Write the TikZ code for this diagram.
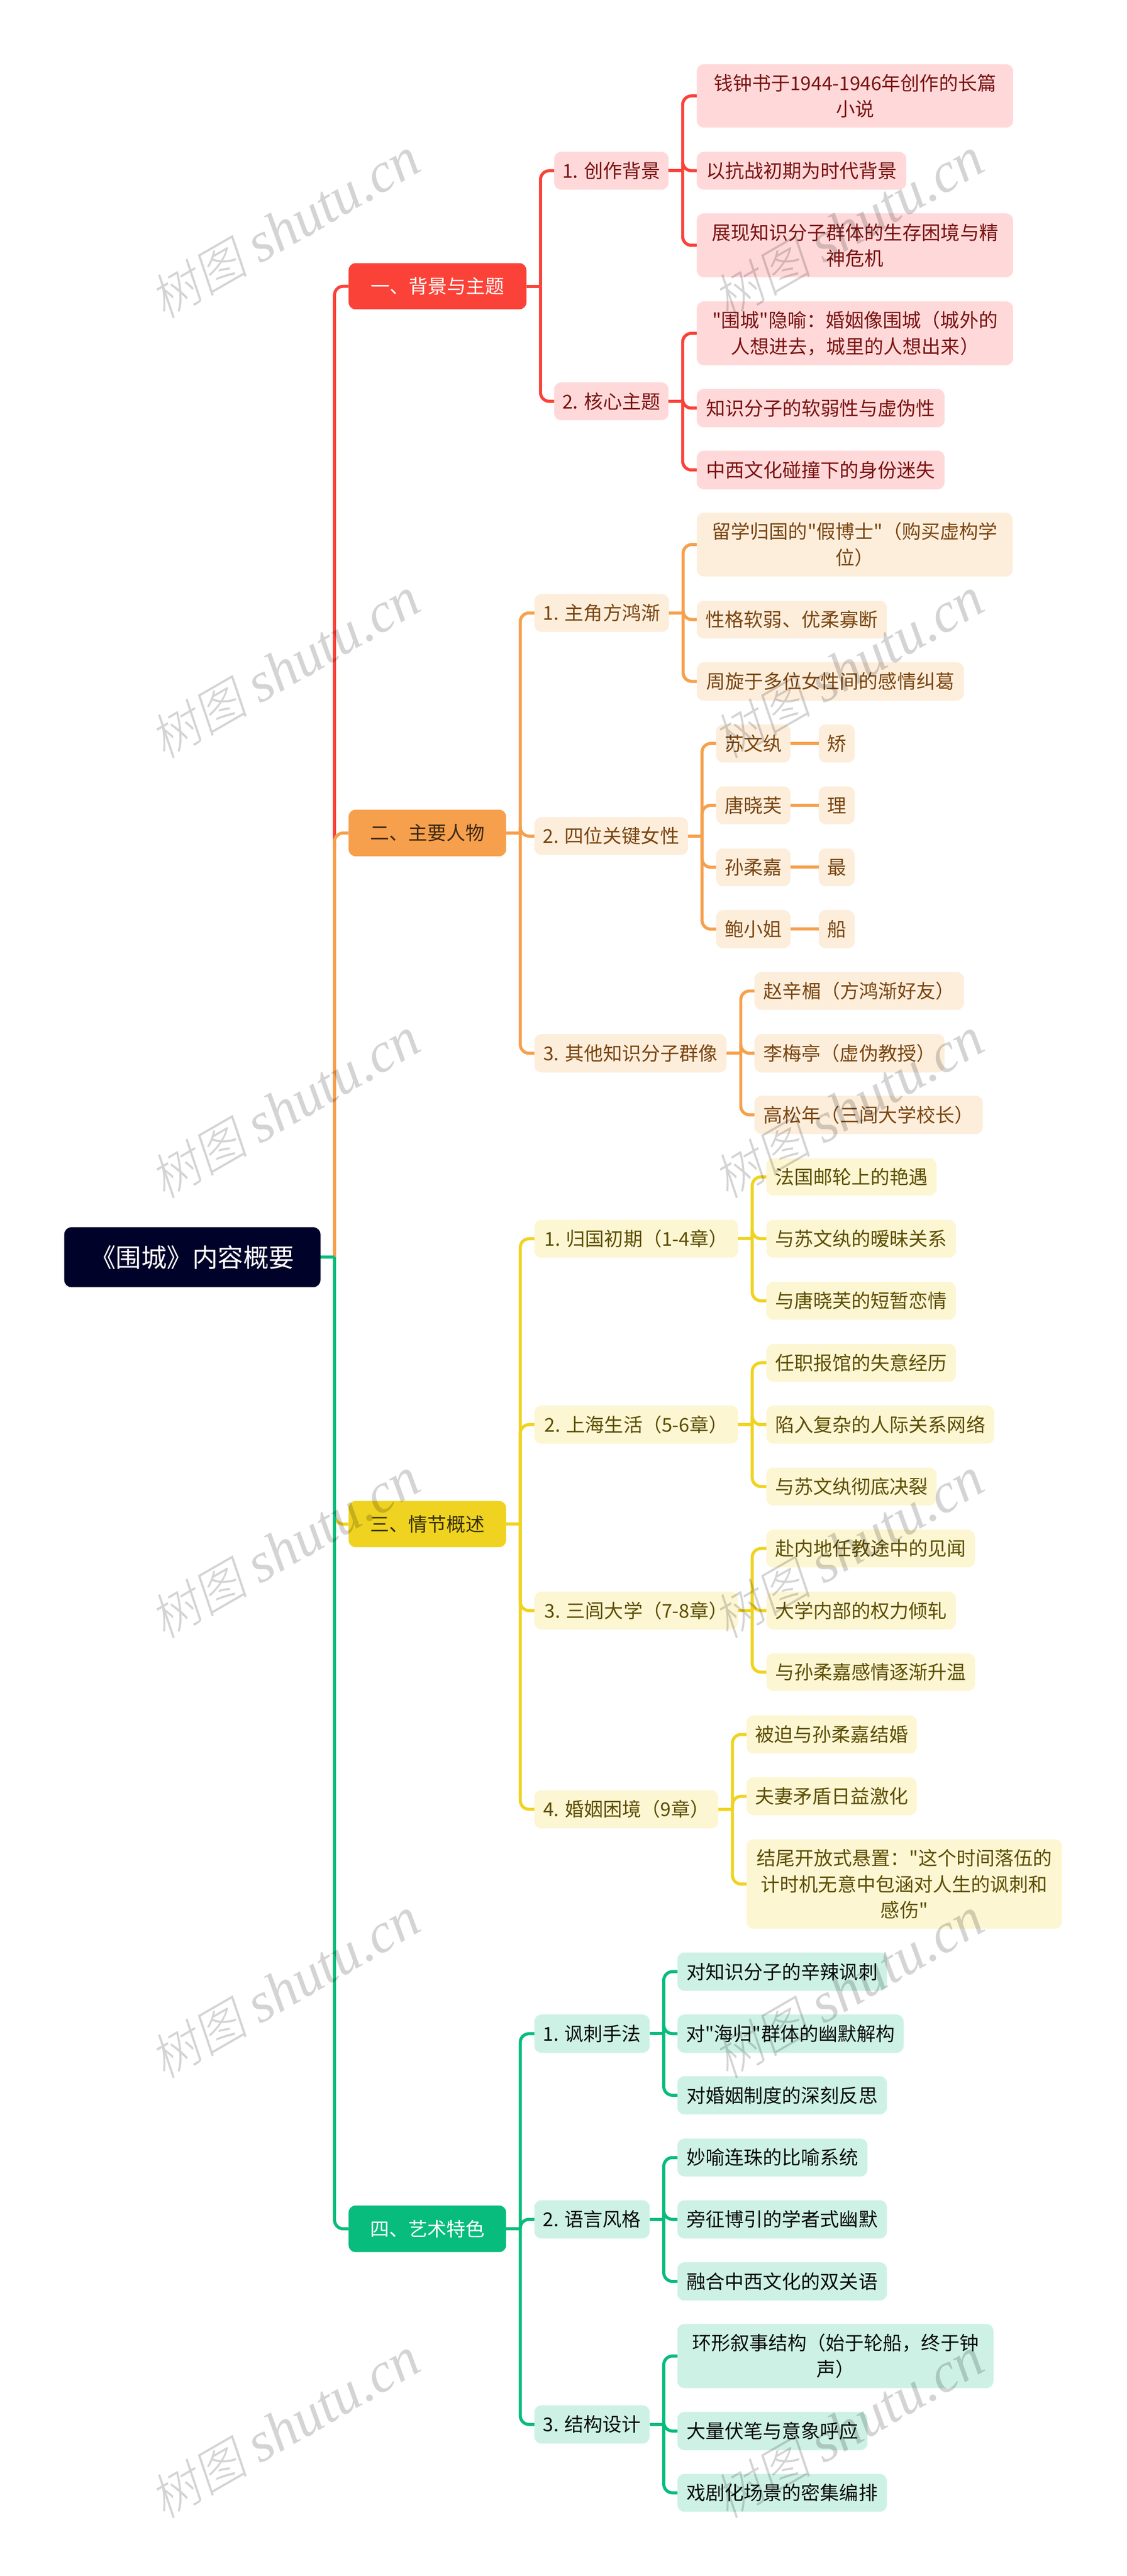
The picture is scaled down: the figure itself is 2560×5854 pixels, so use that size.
\documentclass[tikz,border=0pt]{standalone}
\usepackage{fontspec}
\newfontfamily\boxfont{Noto Sans CJK SC}
\newfontfamily\wmcjk[FakeSlant=0.2]{Noto Sans CJK SC Light}
\newfontfamily\wmlat{Liberation Serif}
\definecolor{cred}{HTML}{FA4238}
\definecolor{corange}{HTML}{F6A04D}
\definecolor{cyellow}{HTML}{F0D321}
\definecolor{cgreen}{HTML}{07BC7C}
\definecolor{croot}{HTML}{000229}
\definecolor{fred}{HTML}{FFD9D9}
\definecolor{forange}{HTML}{FDEEDC}
\definecolor{fyellow}{HTML}{FDF6D3}
\definecolor{fgreen}{HTML}{CDF2E5}
\definecolor{tred}{HTML}{7A1212}
\definecolor{torange}{HTML}{7A4510}
\definecolor{tyellow}{HTML}{5C4E00}
\definecolor{tgreen}{HTML}{0B0B0B}
\newcommand\st{\vrule width 0pt height .92em depth 0pt\relax}
\newcommand\ed{\vrule width 0pt height 0pt depth .16em\relax}
\newcommand\nd[7]{\node[#2,minimum width={(#5-#3)*.5pt},minimum height={(#6-#4)*.5pt}] (#1) at ({(#3+#5)/2},{(#4+#6)/2}) {\st #7\ed};}
% fan: colour, parent, hub, children
\newcommand\fan[4]{\coordinate (#3) at ([xshift=16pt]#2.east);
  \draw[lnk=#1] (#2.east) -- (#3);
  \foreach \c in {#4} {\draw[lnk=#1,rounded corners=10pt] (#3) |- (\c.west);}}
\tikzset{
  box/.style={rectangle,rounded corners=8pt,inner sep=0pt,outer sep=0pt,align=center,
    font=\boxfont\fontsize{21.7}{29.5}\selectfont},
  rootbox/.style={box,fill=croot,text=white,font=\boxfont\fontsize{29}{36}\selectfont},
  redtop/.style={box,fill=cred,text=white},
  orangetop/.style={box,fill=corange,text=black!75!corange},
  yellowtop/.style={box,fill=cyellow,text=black!78!cyellow},
  greentop/.style={box,fill=cgreen,text=white},
  redleaf/.style={box,fill=fred,text=tred},
  orangeleaf/.style={box,fill=forange,text=torange},
  yellowleaf/.style={box,fill=fyellow,text=tyellow},
  greenleaf/.style={box,fill=fgreen,text=tgreen},
  lnk/.style={draw=#1,line width=3.5pt},
  wmark/.style={text=black,opacity=0.17,rotate=30,inner sep=0pt},
}
\newcommand\wmtext{{\wmcjk\fontsize{56}{60}\selectfont 树图}\hspace{14pt}{\wmlat\itshape\fontsize{64}{70}\selectfont shutu.cn}}
\begin{document}
\begin{tikzpicture}[x=0.5pt,y=-0.5pt]
\useasboundingbox (0,0) rectangle (2560,5854);
\nd{root}{rootbox}{146}{2789}{728}{2925}{《围城》内容概要}
% red
\nd{a}{redtop}{792}{598}{1196}{703}{一、背景与主题}
\nd{a1}{redleaf}{1259}{345}{1519}{431}{1. 创作背景}
\nd{a2}{redleaf}{1259}{869}{1519}{955}{2. 核心主题}
\nd{a11}{redleaf}{1583}{146}{2302}{290}{钱钟书于1944-1946年创作的长篇\\小说}
\nd{a12}{redleaf}{1583}{345}{2059}{431}{以抗战初期为时代背景}
\nd{a13}{redleaf}{1583}{485}{2302}{630}{展现知识分子群体的生存困境与精\\神危机}
\nd{a21}{redleaf}{1583}{685}{2302}{830}{"围城"隐喻：婚姻像围城（城外的\\人想进去，城里的人想出来）}
\nd{a22}{redleaf}{1583}{884}{2146}{971}{知识分子的软弱性与虚伪性}
\nd{a23}{redleaf}{1583}{1024}{2146}{1112}{中西文化碰撞下的身份迷失}
% orange
\nd{b}{orangetop}{792}{1840}{1150}{1946}{二、主要人物}
\nd{b1}{orangeleaf}{1214}{1350}{1520}{1436}{1. 主角方鸿渐}
\nd{b2}{orangeleaf}{1214}{1857}{1563}{1943}{2. 四位关键女性}
\nd{b3}{orangeleaf}{1214}{2350}{1651}{2437}{3. 其他知识分子群像}
\nd{b11}{orangeleaf}{1583}{1165}{2301}{1310}{留学归国的"假博士"（购买虚构学\\位）}
\nd{b12}{orangeleaf}{1583}{1365}{2015}{1451}{性格软弱、优柔寡断}
\nd{b13}{orangeleaf}{1583}{1505}{2190}{1592}{周旋于多位女性间的感情纠葛}
\nd{b21}{orangeleaf}{1627}{1646}{1796}{1733}{苏文纨}
\nd{b22}{orangeleaf}{1627}{1787}{1796}{1873}{唐晓芙}
\nd{b23}{orangeleaf}{1627}{1928}{1796}{2014}{孙柔嘉}
\nd{b24}{orangeleaf}{1627}{2068}{1796}{2155}{鲍小姐}
\nd{c21}{orangeleaf}{1860}{1646}{1942}{1733}{矫}
\nd{c22}{orangeleaf}{1860}{1787}{1942}{1873}{理}
\nd{c23}{orangeleaf}{1860}{1928}{1942}{2014}{最}
\nd{c24}{orangeleaf}{1860}{2068}{1942}{2155}{船}
\nd{b31}{orangeleaf}{1714}{2209}{2190}{2295}{赵辛楣（方鸿渐好友）}
\nd{b32}{orangeleaf}{1714}{2350}{2146}{2437}{李梅亭（虚伪教授）}
\nd{b33}{orangeleaf}{1714}{2490}{2233}{2577}{高松年（三闾大学校长）}
% yellow
\nd{d}{yellowtop}{792}{3411}{1150}{3516}{三、情节概述}
\nd{d1}{yellowleaf}{1214}{2772}{1677}{2858}{1. 归国初期（1-4章）}
\nd{d2}{yellowleaf}{1214}{3194}{1677}{3281}{2. 上海生活（5-6章）}
\nd{d3}{yellowleaf}{1214}{3617}{1677}{3703}{3. 三闾大学（7-8章）}
\nd{d4}{yellowleaf}{1214}{4068}{1632}{4155}{4. 婚姻困境（9章）}
\nd{d11}{yellowleaf}{1741}{2632}{2128}{2717}{法国邮轮上的艳遇}
\nd{d12}{yellowleaf}{1741}{2772}{2172}{2858}{与苏文纨的暧昧关系}
\nd{d13}{yellowleaf}{1741}{2913}{2172}{2999}{与唐晓芙的短暂恋情}
\nd{d21}{yellowleaf}{1741}{3054}{2172}{3140}{任职报馆的失意经历}
\nd{d22}{yellowleaf}{1741}{3194}{2259}{3281}{陷入复杂的人际关系网络}
\nd{d23}{yellowleaf}{1741}{3335}{2128}{3421}{与苏文纨彻底决裂}
\nd{d31}{yellowleaf}{1741}{3476}{2215}{3562}{赴内地任教途中的见闻}
\nd{d32}{yellowleaf}{1741}{3617}{2172}{3703}{大学内部的权力倾轧}
\nd{d33}{yellowleaf}{1741}{3757}{2215}{3843}{与孙柔嘉感情逐渐升温}
\nd{d41}{yellowleaf}{1696}{3898}{2083}{3985}{被迫与孙柔嘉结婚}
\nd{d42}{yellowleaf}{1696}{4039}{2083}{4125}{夫妻矛盾日益激化}
\nd{d43}{yellowleaf}{1696}{4180}{2413}{4383}{结尾开放式悬置："这个时间落伍的\\计时机无意中包涵对人生的讽刺和\\感伤"}
% green
\nd{e}{greentop}{792}{5012}{1150}{5118}{四、艺术特色}
\nd{e1}{greenleaf}{1214}{4578}{1476}{4665}{1. 讽刺手法}
\nd{e2}{greenleaf}{1214}{5000}{1476}{5087}{2. 语言风格}
\nd{e3}{greenleaf}{1214}{5466}{1476}{5553}{3. 结构设计}
\nd{e11}{greenleaf}{1539}{4437}{2015}{4524}{对知识分子的辛辣讽刺}
\nd{e12}{greenleaf}{1539}{4578}{2053}{4665}{对"海归"群体的幽默解构}
\nd{e13}{greenleaf}{1539}{4718}{2015}{4805}{对婚姻制度的深刻反思}
\nd{e21}{greenleaf}{1539}{4860}{1971}{4946}{妙喻连珠的比喻系统}
\nd{e22}{greenleaf}{1539}{5000}{2015}{5087}{旁征博引的学者式幽默}
\nd{e23}{greenleaf}{1539}{5141}{2015}{5228}{融合中西文化的双关语}
\nd{e31}{greenleaf}{1539}{5281}{2257}{5427}{环形叙事结构（始于轮船，终于钟\\声）}
\nd{e32}{greenleaf}{1539}{5481}{1971}{5568}{大量伏笔与意象呼应}
\nd{e33}{greenleaf}{1539}{5622}{2015}{5708}{戏剧化场景的密集编排}
% connectors
\coordinate (rh) at ([xshift=16pt]root.east);
\draw[lnk=cred,rounded corners=10pt] (rh) |- (a.west);
\draw[lnk=corange,rounded corners=10pt] (rh) |- (b.west);
\draw[lnk=cyellow,rounded corners=10pt] (rh) |- (d.west);
\draw[lnk=cgreen,rounded corners=10pt] (rh) |- (e.west);
\draw[lnk=cgreen] (root.east) -- (rh);
\fan{cred}{a}{ha}{a1,a2}
\fan{cred}{a1}{ha1}{a11,a12,a13}
\fan{cred}{a2}{ha2}{a21,a22,a23}
\fan{corange}{b}{hb}{b1,b2,b3}
\fan{corange}{b1}{hb1}{b11,b12,b13}
\fan{corange}{b2}{hb2}{b21,b22,b23,b24}
\fan{corange}{b3}{hb3}{b31,b32,b33}
\draw[lnk=corange] (b21.east) -- (c21.west);
\draw[lnk=corange] (b22.east) -- (c22.west);
\draw[lnk=corange] (b23.east) -- (c23.west);
\draw[lnk=corange] (b24.east) -- (c24.west);
\fan{cyellow}{d}{hd}{d1,d2,d3,d4}
\fan{cyellow}{d1}{hd1}{d11,d12,d13}
\fan{cyellow}{d2}{hd2}{d21,d22,d23}
\fan{cyellow}{d3}{hd3}{d31,d32,d33}
\fan{cyellow}{d4}{hd4}{d41,d42,d43}
\fan{cgreen}{e}{he}{e1,e2,e3}
\fan{cgreen}{e1}{he1}{e11,e12,e13}
\fan{cgreen}{e2}{he2}{e21,e22,e23}
\fan{cgreen}{e3}{he3}{e31,e32,e33}
% watermarks
\foreach \wy [count=\i] in {519,1519,2519,3519,4519,5518} {
  \node[wmark] (wl\i) at (647,\wy) {\wmtext};
  \node[wmark] (wr\i) at (1927,\wy) {\wmtext};
}
\end{tikzpicture}
\end{document}
